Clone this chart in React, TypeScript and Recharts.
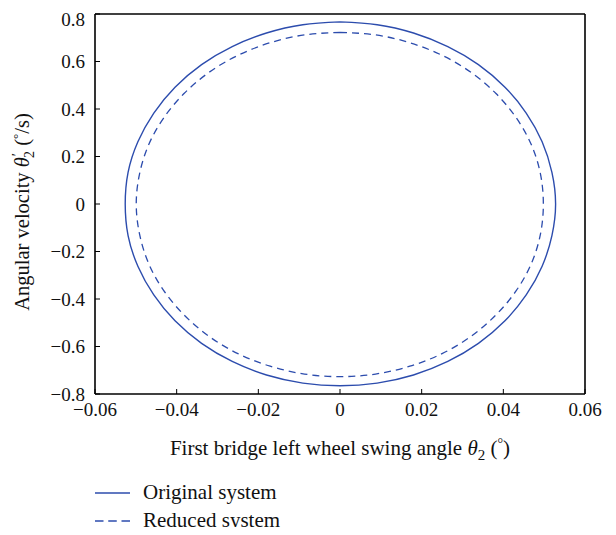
import React from "react";
import { LineChart, Line, XAxis, YAxis, Label } from "recharts";

// Phase trajectory of the first-bridge left wheel: swing angle vs angular velocity.
// Points are listed clockwise starting from the top of each loop.
const originalX = [
  0, 0.0091, 0.018, 0.0264, 0.0339, 0.0404, 0.0456, 0.0495, 0.0519, 0.0528,
  0.0519, 0.0495, 0.0456, 0.0404, 0.0339, 0.0264, 0.018, 0.0091, 0,
  -0.0091, -0.018, -0.0264, -0.0339, -0.0404, -0.0456, -0.0495, -0.0519, -0.0526,
  -0.0519, -0.0495, -0.0456, -0.0404, -0.0339, -0.0264, -0.018, -0.0091, 0,
];
const originalY = [
  0.767, 0.755, 0.72, 0.663, 0.587, 0.492, 0.383, 0.262, 0.133, 0,
  -0.133, -0.262, -0.383, -0.492, -0.587, -0.663, -0.72, -0.754, -0.765,
  -0.754, -0.72, -0.663, -0.587, -0.492, -0.383, -0.262, -0.133, 0,
  0.133, 0.262, 0.383, 0.492, 0.587, 0.663, 0.72, 0.755, 0.767,
];
const reducedX = [
  0, 0.0087, 0.0171, 0.025, 0.0321, 0.0382, 0.0432, 0.0469, 0.0491, 0.0498,
  0.0491, 0.0469, 0.0432, 0.0382, 0.0321, 0.025, 0.0171, 0.0087, 0,
  -0.0087, -0.0171, -0.025, -0.0321, -0.0382, -0.0432, -0.0469, -0.0491, -0.0499,
  -0.0491, -0.0469, -0.0432, -0.0382, -0.0321, -0.025, -0.0171, -0.0087, 0,
];
const reducedY = [
  0.723, 0.712, 0.679, 0.626, 0.554, 0.465, 0.362, 0.248, 0.126, 0,
  -0.126, -0.249, -0.364, -0.467, -0.557, -0.63, -0.683, -0.716, -0.727,
  -0.716, -0.683, -0.63, -0.557, -0.467, -0.364, -0.249, -0.126, 0,
  0.126, 0.248, 0.362, 0.465, 0.554, 0.626, 0.679, 0.712, 0.723,
];

const xTicks = [-0.06, -0.04, -0.02, 0, 0.02, 0.04, 0.06];
const yTicks = [-0.8, -0.6, -0.4, -0.2, 0, 0.2, 0.4, 0.6, 0.8];

const seriesNames = ["Original system", "Reduced system"];

const LINE_COLOR = "#2c4cad";
const FONT = '"Liberation Serif", "Times New Roman", serif';

const toPoints = (xs: number[], ys: number[]) => xs.map((x, i) => ({ x, y: ys[i] }));
const originalData = toPoints(originalX, originalY);
const reducedData = toPoints(reducedX, reducedY);

const fmtX = (v: number) => (Math.abs(v) < 1e-9 ? "0" : (v < 0 ? "\u2212" : "") + Math.abs(v).toFixed(2));
const fmtY = (v: number) => (Math.abs(v) < 1e-9 ? "0" : (v < 0 ? "\u2212" : "") + Math.abs(v).toFixed(1));

const tickStyle = { fill: "#111", fontSize: 19, fontFamily: FONT };

const XTitle = (props: any) => {
  const { viewBox } = props;
  const cx = viewBox.x + viewBox.width / 2;
  const y = viewBox.y + 61;
  return (
    <text x={cx} y={y} textAnchor="middle" fontFamily={FONT} fontSize={21} fill="#111">
      <tspan>First bridge left wheel swing angle </tspan>
      <tspan fontStyle="italic">θ</tspan>
      <tspan fontSize={15} dy={5}>2</tspan>
      <tspan dy={-5}> (</tspan>
      <tspan fontSize={14} dy={-7}>°</tspan>
      <tspan dy={7}>)</tspan>
    </text>
  );
};

const YTitle = (props: any) => {
  const { viewBox } = props;
  const cy = viewBox.y + viewBox.height / 2 + 8;
  const x = 21;
  return (
    <text
      x={x}
      y={cy}
      transform={`rotate(-90 ${x} ${cy})`}
      textAnchor="middle"
      fontFamily={FONT}
      fontSize={20.5}
      fill="#111"
    >
      <tspan>Angular velocity </tspan>
      <tspan fontStyle="italic">θ</tspan>
      <tspan fontStyle="italic" fontSize={15} dy={-7}>′</tspan>
      <tspan fontSize={14} dx={-4} dy={12}>2</tspan>
      <tspan dy={-5}> (</tspan>
      <tspan fontSize={13} dy={-7}>°</tspan>
      <tspan dy={7}>/s)</tspan>
    </text>
  );
};

const axisLineStyle = { stroke: "#000", strokeWidth: 1.6 };
const tickLineStyle = { stroke: "#000", strokeWidth: 1 };

export default function App() {
  return (
    <div style={{ position: "relative", width: 600, height: 519, fontFamily: FONT }}>
      <LineChart
        width={600}
        height={519}
        margin={{ top: 5, right: 22, bottom: 103, left: 37 }}
      >
        <XAxis
          xAxisId="bottom"
          type="number"
          dataKey="x"
          domain={[-0.06, 0.06]}
          ticks={xTicks}
          tickFormatter={fmtX}
          allowDataOverflow
          height={30}
          tickSize={-5}
          tickMargin={14}
          tick={tickStyle}
          axisLine={axisLineStyle}
          tickLine={tickLineStyle}
        >
          <Label content={XTitle} />
        </XAxis>
        <XAxis
          xAxisId="top"
          orientation="top"
          type="number"
          dataKey="x"
          domain={[-0.06, 0.06]}
          ticks={xTicks}
          allowDataOverflow
          height={1}
          tickSize={-5}
          tick={false}
          axisLine={axisLineStyle}
          tickLine={tickLineStyle}
        />
        <YAxis
          yAxisId="left"
          type="number"
          dataKey="y"
          domain={[-0.8, 0.8]}
          ticks={yTicks}
          tickFormatter={fmtY}
          allowDataOverflow
          width={50}
          tickSize={-5}
          tickMargin={15}
          tick={tickStyle}
          axisLine={axisLineStyle}
          tickLine={tickLineStyle}
        >
          <Label content={YTitle} />
        </YAxis>
        <YAxis
          yAxisId="right"
          orientation="right"
          type="number"
          dataKey="y"
          domain={[-0.8, 0.8]}
          ticks={yTicks}
          allowDataOverflow
          width={1}
          tickSize={-5}
          tick={false}
          axisLine={axisLineStyle}
          tickLine={tickLineStyle}
        />
        <Line
          xAxisId="bottom"
          yAxisId="left"
          data={originalData}
          dataKey="y"
          name={seriesNames[0]}
          type="natural"
          stroke={LINE_COLOR}
          strokeWidth={1.4}
          dot={false}
          activeDot={false}
          isAnimationActive={false}
        />
        <Line
          xAxisId="bottom"
          yAxisId="left"
          data={reducedData}
          dataKey="y"
          name={seriesNames[1]}
          type="natural"
          stroke={LINE_COLOR}
          strokeWidth={1.3}
          strokeDasharray="7 5"
          dot={false}
          activeDot={false}
          isAnimationActive={false}
        />
      </LineChart>
      <svg
        width={260}
        height={60}
        style={{ position: "absolute", left: 80, top: 470 }}
      >
        <line x1={7} x2={42} y1={15} y2={15} stroke={LINE_COLOR} strokeWidth={1.4} />
        <text x={55} y={21} fontFamily={FONT} fontSize={21} fill="#111">
          {seriesNames[0]}
        </text>
        <line
          x1={7}
          x2={42}
          y1={43}
          y2={43}
          stroke={LINE_COLOR}
          strokeWidth={1.3}
          strokeDasharray="8.5 4.75"
        />
        <text x={55} y={49} fontFamily={FONT} fontSize={21} fill="#111">
          {seriesNames[1]}
        </text>
      </svg>
    </div>
  );
}
